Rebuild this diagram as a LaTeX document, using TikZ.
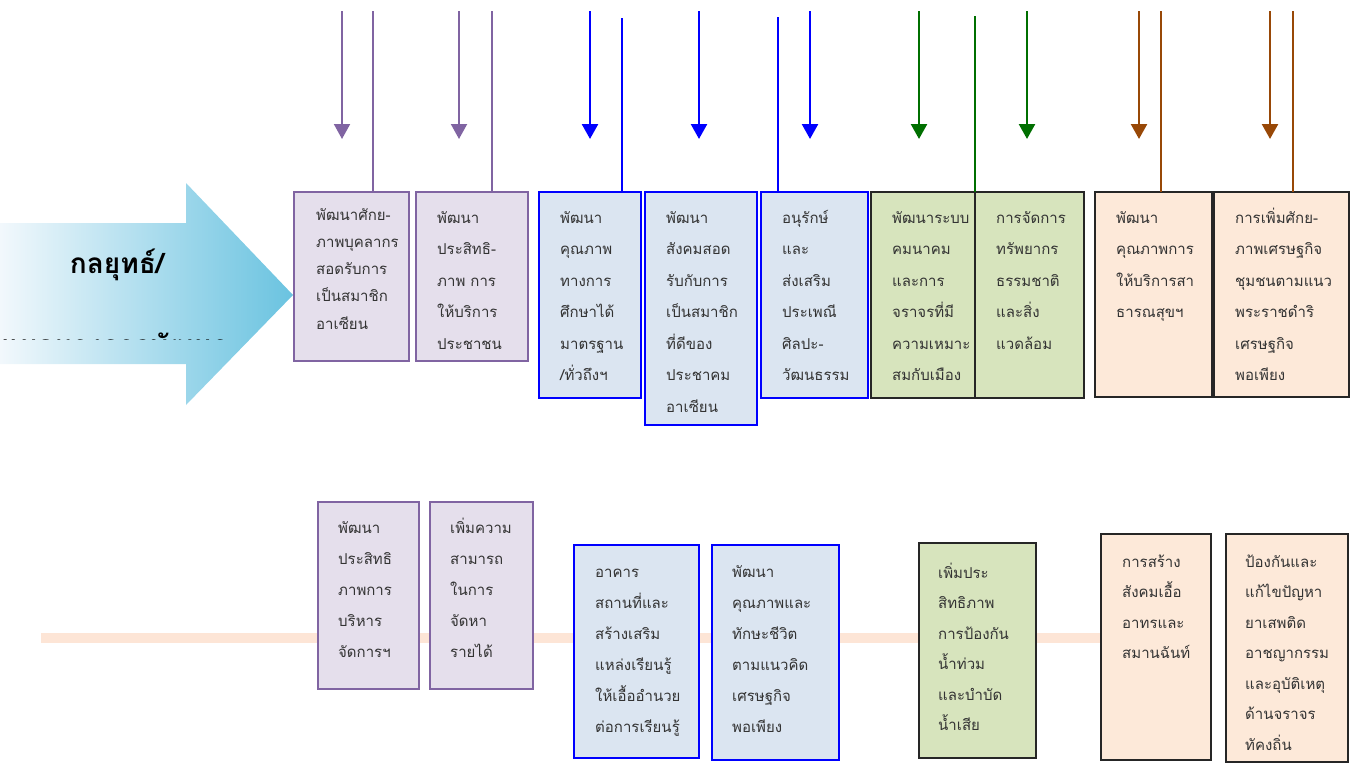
\documentclass[tikz,border=0pt]{standalone}
\usepackage{fontspec}
\usetikzlibrary{arrows.meta}
\newfontfamily\thai[Script=Thai]{Loma}
\definecolor{pfill}{HTML}{E5DFEC}
\definecolor{pdraw}{HTML}{8064A2}
\definecolor{bfill}{HTML}{DBE5F1}
\definecolor{bdraw}{HTML}{0000FF}
\definecolor{gfill}{HTML}{D7E4BD}
\definecolor{ofill}{HTML}{FDE9D9}
\definecolor{kdraw}{HTML}{262626}
\definecolor{gline}{HTML}{006F00}
\definecolor{oline}{HTML}{984807}
\definecolor{bandc}{HTML}{FDE5D6}
\definecolor{txtc}{HTML}{333333}
\definecolor{arrL}{HTML}{F2F8FC}
\definecolor{arrR}{HTML}{6AC3E0}
\newcommand\tlines[2]{\vtop{\baselineskip=#1\lineskiplimit=-100pt\lineskip=0pt\halign{##\hfil\cr#2\crcr}}}
\tikzset{
  boxbase/.style={rectangle, anchor=north west, inner sep=0pt, outer sep=0pt, line width=2pt},
  pbox/.style={boxbase, fill=pfill, draw=pdraw},
  bbox/.style={boxbase, fill=bfill, draw=bdraw},
  gbox/.style={boxbase, fill=gfill, draw=kdraw},
  obox/.style={boxbase, fill=ofill, draw=kdraw},
  txt/.style={inner sep=0pt, anchor=base west, text=txtc, font=\thai\fontsize{15}{18}\selectfont},
  bigtxt/.style={inner sep=0pt, anchor=base, text=black, font=\thai\bfseries\fontsize{28}{32}\selectfont},
  tip/.style={-{Triangle[width=16pt,length=15pt]}},
  parrow/.style={tip, draw=pdraw, line width=2pt},
  pline/.style={draw=pdraw, line width=2.5pt},
  barrow/.style={tip, draw=bdraw, line width=2.5pt},
  bline/.style={draw=bdraw, line width=2.5pt},
  garrow/.style={tip, draw=gline, line width=2.5pt},
  gl/.style={draw=gline, line width=2.5pt},
  oarrow/.style={tip, draw=oline, line width=2.5pt},
  ol/.style={draw=oline, line width=2.5pt},
}
\begin{document}
\begin{tikzpicture}[x=1pt,y=-1pt]
\useasboundingbox (0,0) rectangle (1351,764);
% big arrow
\path[left color=arrL, right color=arrR] (0,223) -- (186,223) -- (186,183) -- (293,295) -- (186,405) -- (186,364) -- (0,364) -- cycle;
\node[bigtxt] (s1) at (117,273) {กลยุทธ์/};
\begin{scope}
  \clip (0,300) rectangle (293,339);
  \node[bigtxt] (s2) at (115,355) {แนวทางการพัฒนา};
\end{scope}
% band
\coordinate (bandL) at (41,638);
\coordinate (bandR) at (1101,638);
\draw[draw=bandc, line width=10pt] (bandL) -- (bandR);
% top row boxes
\node[pbox, minimum width=115pt, minimum height=169pt] (p1) at (294,192) {};
\node[pbox, minimum width=112pt, minimum height=169pt] (p2) at (416,192) {};
\node[bbox, minimum width=102pt, minimum height=206pt] (b1) at (539,192) {};
\node[bbox, minimum width=112pt, minimum height=233pt] (b2) at (645,192) {};
\node[bbox, minimum width=107pt, minimum height=206pt] (b3) at (761,192) {};
\node[gbox, minimum width=124pt, minimum height=206pt] (g1) at (871,192) {};
\node[gbox, minimum width=109pt, minimum height=206pt] (g2) at (975,192) {};
\node[obox, minimum width=117pt, minimum height=205pt] (o1) at (1095,192) {};
\node[obox, minimum width=135pt, minimum height=205pt] (o2) at (1214,192) {};
% bottom row boxes
\node[pbox, minimum width=101pt, minimum height=187pt] (p3) at (318,502) {};
\node[pbox, minimum width=103pt, minimum height=187pt] (p4) at (430,502) {};
\node[bbox, minimum width=125pt, minimum height=213pt] (b4) at (574,545) {};
\node[bbox, minimum width=127pt, minimum height=215pt] (b5) at (712,545) {};
\node[gbox, minimum width=117pt, minimum height=215pt] (g3) at (919,543) {};
\node[obox, minimum width=110pt, minimum height=226pt] (o3) at (1101,534) {};
\node[obox, minimum width=122pt, minimum height=228pt] (o4) at (1226,534) {};
% top arrows
\coordinate (a1s) at (342,11);  \coordinate (a1e) at (342,139);
\coordinate (a2s) at (459,11);  \coordinate (a2e) at (459,139);
\coordinate (a3s) at (590,11);  \coordinate (a3e) at (590,139);
\coordinate (a4s) at (699,11);  \coordinate (a4e) at (699,139);
\coordinate (a5s) at (810,11);  \coordinate (a5e) at (810,139);
\coordinate (a6s) at (919,11);  \coordinate (a6e) at (919,139);
\coordinate (a7s) at (1027,11); \coordinate (a7e) at (1027,139);
\coordinate (a8s) at (1139,11); \coordinate (a8e) at (1139,139);
\coordinate (a9s) at (1270,11); \coordinate (a9e) at (1270,139);
\draw[parrow] (a1s) -- (a1e);
\draw[parrow] (a2s) -- (a2e);
\draw[barrow] (a3s) -- (a3e);
\draw[barrow] (a4s) -- (a4e);
\draw[barrow] (a5s) -- (a5e);
\draw[garrow] (a6s) -- (a6e);
\draw[garrow] (a7s) -- (a7e);
\draw[oarrow] (a8s) -- (a8e);
\draw[oarrow] (a9s) -- (a9e);
% top lines
\coordinate (l1) at (373,11);
\coordinate (l2) at (492,11);
\coordinate (l3) at (622,18);
\coordinate (l4) at (778,17);
\coordinate (l5) at (975,16);
\coordinate (l6) at (1161,11);
\coordinate (l7) at (1293,11);
\draw[pline] (l1) -- (l1 |- p1.north);
\draw[pline] (l2) -- (l2 |- p2.north);
\draw[bline] (l3) -- (l3 |- b1.north);
\draw[bline] (l4) -- (l4 |- b3.north);
\draw[gl] (l5) -- (l5 |- g2.north);
\draw[ol] (l6) -- (l6 |- o1.north);
\draw[ol] (l7) -- (l7 |- o2.north);
% texts top
\node[txt] (p1t) at (316,220) {\tlines{27.3pt}{พัฒนาศักย-\cr ภาพบุคลากร\cr สอดรับการ\cr เป็นสมาชิก\cr อาเซียน}};
\node[txt] (p2t) at (437,223) {\tlines{31.5pt}{พัฒนา\cr ประสิทธิ-\cr ภาพ การ\cr ให้บริการ\cr ประชาชน}};
\node[txt] (b1t) at (560,223) {\tlines{31.5pt}{พัฒนา\cr คุณภาพ\cr ทางการ\cr ศึกษาได้\cr มาตรฐาน\cr /ทั่วถึงฯ}};
\node[txt] (b2t) at (666,223) {\tlines{31.5pt}{พัฒนา\cr สังคมสอด\cr รับกับการ\cr เป็นสมาชิก\cr ที่ดีของ\cr ประชาคม\cr อาเซียน}};
\node[txt] (b3t) at (782,223) {\tlines{31.5pt}{อนุรักษ์\cr และ\cr ส่งเสริม\cr ประเพณี\cr ศิลปะ-\cr วัฒนธรรม}};
\node[txt] (g1t) at (892,223) {\tlines{31.5pt}{พัฒนาระบบ\cr คมนาคม\cr และการ\cr จราจรที่มี\cr ความเหมาะ\cr สมกับเมือง}};
\node[txt] (g2t) at (996,223) {\tlines{31.5pt}{การจัดการ\cr ทรัพยากร\cr ธรรมชาติ\cr และสิ่ง\cr แวดล้อม}};
\node[txt] (o1t) at (1116,223) {\tlines{31.5pt}{พัฒนา\cr คุณภาพการ\cr ให้บริการสา\cr ธารณสุขฯ}};
\node[txt] (o2t) at (1235,223) {\tlines{31.5pt}{การเพิ่มศักย-\cr ภาพเศรษฐกิจ\cr ชุมชนตามแนว\cr พระราชดำริ\cr เศรษฐกิจ\cr พอเพียง}};
% texts bottom
\node[txt] (p3t) at (338,533) {\tlines{31pt}{พัฒนา\cr ประสิทธิ\cr ภาพการ\cr บริหาร\cr จัดการฯ}};
\node[txt] (p4t) at (450,533) {\tlines{31pt}{เพิ่มความ\cr สามารถ\cr ในการ\cr จัดหา\cr รายได้}};
\node[txt] (b4t) at (595,577) {\tlines{31pt}{อาคาร\cr สถานที่และ\cr สร้างเสริม\cr แหล่งเรียนรู้\cr ให้เอื้ออำนวย\cr ต่อการเรียนรู้}};
\node[txt] (b5t) at (732,577) {\tlines{31pt}{พัฒนา\cr คุณภาพและ\cr ทักษะชีวิต\cr ตามแนวคิด\cr เศรษฐกิจ\cr พอเพียง}};
\node[txt] (g3t) at (938,578) {\tlines{30.5pt}{เพิ่มประ\cr สิทธิภาพ\cr การป้องกัน\cr น้ำท่วม\cr และบำบัด\cr น้ำเสีย}};
\node[txt] (o3t) at (1122,567) {\tlines{30.5pt}{การสร้าง\cr สังคมเอื้อ\cr อาทรและ\cr สมานฉันท์}};
\node[txt] (o4t) at (1245,567) {\tlines{30.5pt}{ป้องกันและ\cr แก้ไขปัญหา\cr ยาเสพติด\cr อาชญากรรม\cr และอุบัติเหตุ\cr ด้านจราจร\cr ทัคงถิ่น}};
\end{tikzpicture}
\end{document}
